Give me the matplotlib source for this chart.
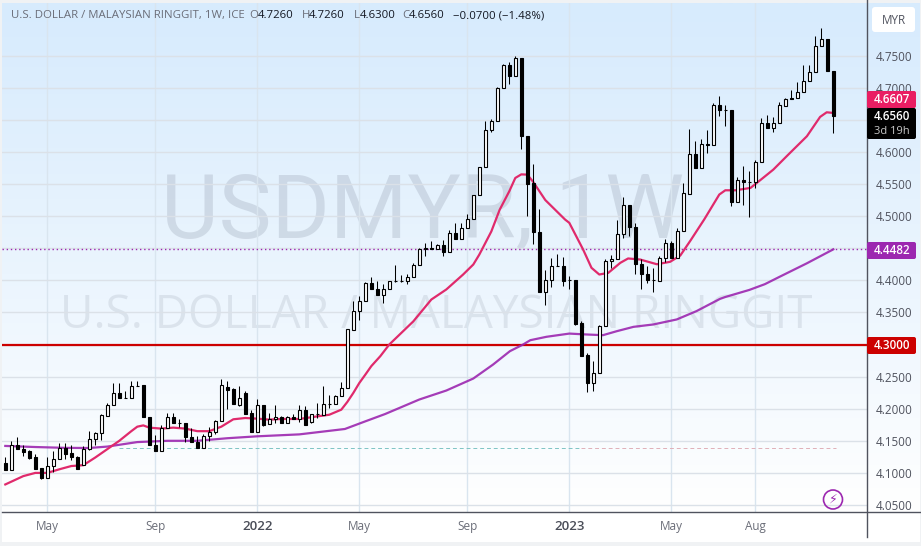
import numpy as np
import matplotlib
matplotlib.use('Agg')
import matplotlib.pyplot as plt
from matplotlib.patches import FancyBboxPatch, Circle

# Weekly candles
opens = [4.116, 4.1045, 4.144, 4.138, 4.1335, 4.124, 4.107, 4.0925, 4.110, 4.122,
         4.139, 4.1315, 4.125, 4.113, 4.137, 4.153, 4.1625, 4.189, 4.206, 4.225,
         4.2165, 4.2165, 4.235, 4.2365, 4.1875, 4.144, 4.134, 4.1705, 4.1875, 4.177,
         4.177, 4.1565, 4.1485, 4.139, 4.1575, 4.164, 4.181, 4.2345, 4.230, 4.206,
         4.225, 4.193, 4.1637, 4.206, 4.176, 4.1845, 4.1875, 4.177, 4.1875, 4.1845,
         4.1985, 4.179, 4.191, 4.190, 4.207, 4.207, 4.220, 4.232, 4.322, 4.3525,
         4.368, 4.396, 4.3867, 4.377, 4.3867, 4.3987, 4.399, 4.3987, 4.4055, 4.424,
         4.448, 4.4505, 4.448, 4.4545, 4.4435, 4.474, 4.464, 4.482, 4.496, 4.533,
         4.5766, 4.634, 4.6487, 4.6996, 4.7355, 4.719, 4.7464, 4.6254, 4.5508, 4.476,
         4.3815, 4.4007, 4.4225, 4.4225, 4.4, 4.4007, 4.3337, 4.283, 4.2408, 4.2559,
         4.329, 4.4303, 4.4334, 4.4724, 4.5176, 4.4838, 4.4256, 4.41, 4.4, 4.399,
         4.4345, 4.4585, 4.4345, 4.477, 4.535, 4.5968, 4.5745, 4.612, 4.6103, 4.6732,
         4.665, 4.6659, 4.5215, 4.5563, 4.5532, 4.5532, 4.5839, 4.6451, 4.6368, 4.6451,
         4.6721, 4.684, 4.6836, 4.6929, 4.7105, 4.7246, 4.7656, 4.776, 4.726]
highs = [4.125, 4.150, 4.156, 4.143, 4.136, 4.130, 4.107, 4.124, 4.134, 4.147,
         4.146, 4.143, 4.127, 4.142, 4.166, 4.164, 4.191, 4.209, 4.2405, 4.2395,
         4.2275, 4.243, 4.243, 4.2365, 4.1875, 4.1585, 4.174, 4.193, 4.194, 4.1845,
         4.177, 4.170, 4.1575, 4.160, 4.171, 4.182, 4.247, 4.243, 4.233, 4.235,
         4.2275, 4.198, 4.2155, 4.206, 4.194, 4.205, 4.188, 4.189, 4.192, 4.206,
         4.2035, 4.191, 4.209, 4.236, 4.222, 4.221, 4.241, 4.324, 4.367, 4.375,
         4.397, 4.405, 4.3987, 4.3935, 4.3987, 4.4246, 4.4075, 4.4105, 4.427, 4.4505,
         4.458, 4.461, 4.456, 4.4625, 4.478, 4.4895, 4.489, 4.504, 4.5336, 4.5766,
         4.6487, 4.651, 4.7005, 4.7375, 4.7396, 4.749, 4.7464, 4.6254, 4.5818, 4.5103,
         4.4153, 4.434, 4.4417, 4.4366, 4.406, 4.4007, 4.3363, 4.286, 4.2741, 4.331,
         4.4324, 4.44, 4.4947, 4.529, 4.5176, 4.4885, 4.4324, 4.423, 4.4194, 4.4386,
         4.4636, 4.4615, 4.4817, 4.5523, 4.6358, 4.6166, 4.6202, 4.6347, 4.6763, 4.6877,
         4.6737, 4.6659, 4.561, 4.5787, 4.5698, 4.588, 4.6529, 4.6581, 4.6545, 4.6778,
         4.684, 4.697, 4.7095, 4.736, 4.736, 4.78, 4.793, 4.776, 4.726]
lows = [4.1045, 4.104, 4.137, 4.126, 4.122, 4.106, 4.091, 4.0925, 4.101, 4.122,
        4.122, 4.120, 4.106, 4.113, 4.136, 4.143, 4.151, 4.188, 4.206, 4.2165,
        4.2165, 4.2165, 4.235, 4.187, 4.1435, 4.134, 4.134, 4.1705, 4.177, 4.172,
        4.148, 4.148, 4.139, 4.139, 4.150, 4.160, 4.181, 4.200, 4.208, 4.204,
        4.192, 4.1637, 4.1637, 4.173, 4.176, 4.178, 4.177, 4.177, 4.184, 4.180,
        4.175, 4.178, 4.186, 4.190, 4.201, 4.207, 4.220, 4.232, 4.322, 4.338,
        4.368, 4.3867, 4.377, 4.364, 4.3867, 4.397, 4.397, 4.3935, 4.4055, 4.424,
        4.4375, 4.4485, 4.448, 4.438, 4.4435, 4.464, 4.464, 4.482, 4.496, 4.533,
        4.5766, 4.631, 4.6487, 4.6996, 4.7053, 4.719, 4.605, 4.5008, 4.4558, 4.3815,
        4.3623, 4.3898, 4.4225, 4.3914, 4.387, 4.33, 4.282, 4.2263, 4.2278, 4.2559,
        4.329, 4.4194, 4.4334, 4.4662, 4.4687, 4.41, 4.3857, 4.3955, 4.3816, 4.399,
        4.4282, 4.4345, 4.4345, 4.477, 4.534, 4.5745, 4.5745, 4.5984, 4.6103, 4.6565,
        4.64, 4.5153, 4.5215, 4.5179, 4.4987, 4.5439, 4.5839, 4.6368, 4.6306, 4.6451,
        4.6721, 4.6825, 4.6836, 4.6929, 4.7105, 4.7246, 4.7656, 4.7256, 4.63]
closes = [4.1045, 4.144, 4.137, 4.1325, 4.123, 4.106, 4.0925, 4.110, 4.122, 4.139,
          4.130, 4.124, 4.106, 4.137, 4.153, 4.1625, 4.190, 4.206, 4.225, 4.2165,
          4.2165, 4.235, 4.2355, 4.187, 4.1435, 4.134, 4.1705, 4.1875, 4.177, 4.177,
          4.1555, 4.148, 4.139, 4.1575, 4.164, 4.181, 4.2375, 4.229, 4.208, 4.217,
          4.192, 4.1637, 4.206, 4.175, 4.1845, 4.1875, 4.177, 4.1875, 4.1845, 4.1975,
          4.175, 4.191, 4.1925, 4.207, 4.208, 4.220, 4.232, 4.3234, 4.3525, 4.368,
          4.396, 4.3867, 4.377, 4.3867, 4.3987, 4.399, 4.399, 4.4055, 4.424, 4.448,
          4.4505, 4.449, 4.4545, 4.4435, 4.474, 4.464, 4.482, 4.496, 4.533, 4.5766,
          4.634, 4.6487, 4.6996, 4.7355, 4.719, 4.7464, 4.6244, 4.5496, 4.475, 4.3815,
          4.4007, 4.4225, 4.4225, 4.3987, 4.4, 4.3327, 4.282, 4.2408, 4.2559, 4.329,
          4.4303, 4.4334, 4.4724, 4.5176, 4.4838, 4.425, 4.41, 4.3997, 4.4, 4.4345,
          4.4585, 4.4345, 4.477, 4.5363, 4.5968, 4.5745, 4.6124, 4.611, 4.6732, 4.6648,
          4.666, 4.5215, 4.5558, 4.5527, 4.5527, 4.5839, 4.6451, 4.6368, 4.6451, 4.6732,
          4.6825, 4.6825, 4.6929, 4.7105, 4.7246, 4.7656, 4.776, 4.7256, 4.656]

# Moving averages, week number / value
pink_x = [0, 3, 5, 7, 9, 11, 13, 15, 17, 19, 21, 22, 23, 24, 26, 28, 30, 32, 34, 36,
          38, 40, 42, 44, 46, 49, 52, 54, 56, 57, 58, 59, 60, 61, 62.5, 64, 68, 71, 73.5,
          76.3, 78, 79, 81, 82.4, 84, 85, 86, 87, 88, 90, 93.3, 94, 96.3, 97.7, 99, 100.5,
          102.5, 103.8, 105.8, 108.6, 110.8, 112.5, 114.2, 116.5, 119, 120, 121.7, 124.2,
          125.8, 128, 130.5, 133.6, 135.8, 136.9, 138]
pink_y = [4.082, 4.095, 4.100, 4.100, 4.1056, 4.1107, 4.112, 4.124, 4.137, 4.150, 4.165,
          4.172, 4.174, 4.1705, 4.169, 4.1705, 4.169, 4.165, 4.165, 4.172, 4.1835, 4.1855,
          4.1845, 4.183, 4.184, 4.184, 4.188, 4.1906, 4.1985, 4.2105, 4.2245, 4.24, 4.253,
          4.2663, 4.2818, 4.30, 4.336, 4.370, 4.3857, 4.409, 4.4246, 4.44, 4.476, 4.51,
          4.5387, 4.5594, 4.565, 4.5646, 4.553, 4.525, 4.4946, 4.4895, 4.448, 4.4194, 4.409,
          4.4116, 4.4272, 4.434, 4.4324, 4.425, 4.4288, 4.4386, 4.462, 4.495, 4.5336, 4.5402,
          4.5402, 4.5439, 4.5558, 4.5724, 4.5958, 4.6244, 4.6545, 4.6617, 4.6607]
purple_x = [0, 5, 10, 14, 17, 22, 27, 32, 37, 42, 49, 56.6, 60, 63.3, 69, 73.5, 78, 81.3,
            84.1, 86.3, 87.5, 90.2, 94, 96.9, 99.6, 101.9, 104.7, 108, 111.9, 115.2, 119.1,
            120, 124, 126.6, 129.1, 133.6, 138]
purple_y = [4.142, 4.1403, 4.139, 4.1388, 4.141, 4.148, 4.150, 4.150, 4.154, 4.157, 4.160,
            4.1684, 4.1803, 4.1917, 4.2143, 4.2283, 4.247, 4.2688, 4.2896, 4.30, 4.3067,
            4.312, 4.317, 4.3156, 4.3145, 4.3207, 4.3275, 4.3312, 4.339, 4.352, 4.371,
            4.374, 4.385, 4.394, 4.4057, 4.4265, 4.4482]

price_ticks = [4.05, 4.10, 4.15, 4.20, 4.25, 4.30, 4.35, 4.40, 4.45, 4.50, 4.55, 4.60, 4.65, 4.70, 4.75]
hidden_ticks = [4.30, 4.45, 4.65]  # covered by the price boxes
date_ticks = [7, 25, 42, 59, 77, 94, 111, 125]
date_labels = ['May', 'Sep', '2022', 'May', 'Sep', '2023', 'May', 'Aug']

support = 4.30
ma_last = 4.4482
basis = 4.1388

W, H = 921, 546
FONT = 'Open Sans'
WM_FONT = 'Roboto'
GRAY = '#6a6d78'

fig = plt.figure(figsize=(W / 100, H / 100), dpi=100, facecolor='#f0f2f4')

# background with blue gradient
bg = fig.add_axes([2 / W, 1 - 541 / H, 917 / W, 538 / H], zorder=0)
grad = np.linspace(0, 1, 256).reshape(-1, 1)
top = np.array([215, 235, 253]) / 255
img = top + (1 - top) * grad[..., None] ** 1.1
bg.imshow(img, extent=[0, 1, 512, 3], aspect='auto', zorder=1)
bg.fill_between([0, 1], 512, 541, color='white', zorder=1)
bg.set_xlim(0, 1)
bg.set_ylim(541, 3)
bg.axis('off')

# main chart, x is the week number
ax = fig.add_axes([2 / W, 1 - 512 / H, 865 / W, 509 / H], zorder=1)
ax.patch.set_alpha(0)
ax.set_xlim((2 - 5.3) / 6, (867 - 5.3) / 6)
ax.set_ylim(4.05 - 7 / 642, 4.05 + 502 / 642)
for s in ax.spines.values():
    s.set_visible(False)
ax.set_axisbelow(True)
ax.grid(True, axis='y', color='#dbe1e8', lw=1)
ax.grid(True, axis='x', color='#d9e5ef', lw=1)
ax.yaxis.tick_right()
ax.set_yticks(price_ticks)
ax.set_yticklabels(['' if p in hidden_ticks else '%.4f' % p for p in price_ticks],
                   fontsize=8.4, color='#50535e', family=FONT)
ax.set_xticks(date_ticks)
ax.set_xticklabels(date_labels, fontsize=8.5, color=GRAY, family=FONT)
for lab, txt in zip(ax.get_xticklabels(), date_labels):
    if txt.isdigit():
        lab.set_color('#4a4d58')
        lab.set_fontsize(9.5)
        lab.set_fontweight('semibold')
ax.tick_params(axis='both', length=0)
ax.tick_params(axis='y', pad=6)
ax.tick_params(axis='x', pad=6)

# watermarks
fig.text(423 / W, 1 - 213 / H, 'USDMYR, 1W', ha='center', va='center', fontsize=64,
         color='#8e97a8', alpha=0.27, family=WM_FONT, zorder=0.5)
ax.text(434 / 865, 1 - 313 / 509, 'U.S. DOLLAR / MALAYSIAN RINGGIT', transform=ax.transAxes,
        ha='center', va='center', fontsize=33, color='#8e97a8', alpha=0.2, family=FONT, zorder=0.5)

# horizontal levels
ax.axhline(support, color='#cc0000', lw=1.6, zorder=2)
ax.axhline(ma_last, color='#9c27b0', lw=1, ls=(0, (1, 2)), zorder=2)
ax.plot([19, 96], [basis, basis], color='#7fc4c4', lw=0.7, ls=(0, (4, 3)), zorder=2)
ax.plot([96, 138.5], [basis, basis], color='#e0b0b8', lw=0.7, ls=(0, (4, 3)), zorder=2)

# moving averages
ax.plot(purple_x, purple_y, color='#9c27b0', lw=1.6, alpha=0.9, zorder=3, solid_joinstyle='round')
ax.plot(pink_x, pink_y, color='#e02a6c', lw=1.6, zorder=3, solid_joinstyle='round')

# candles
x = np.arange(len(opens))
o = np.array(opens)
c = np.array(closes)
ax.vlines(x, lows, highs, color='black', lw=0.75, zorder=4)
up = c >= o
ax.bar(x[up], (c - o)[up], bottom=o[up], width=0.55, color='white', edgecolor='black', lw=0.8, zorder=5)
ax.bar(x[~up], (c - o)[~up], bottom=o[~up], width=0.55, color='black', edgecolor='black', lw=0.8, zorder=5)

# overlay in pixels for axis frame, labels and header
ov = fig.add_axes([0, 0, 1, 1], zorder=3)
ov.set_xlim(0, W)
ov.set_ylim(H, 0)
ov.axis('off')
ov.patch.set_alpha(0)
ov.plot([2, 921], [512, 512], color='#50535e', lw=1)
ov.plot([867, 867], [0, 537], color='#50535e', lw=1)


def price_box(y0, h, color, label):
    ov.add_patch(FancyBboxPatch((867, y0), 49, h, boxstyle='round,pad=0,rounding_size=2',
                                fc=color, ec='none', zorder=5))
    ov.text(892, y0 + 8.3, label, color='white', fontsize=8.4, fontweight='semibold',
            ha='center', va='center', family=FONT, zorder=6)


price_box(91, 17, '#e91e63', '%.4f' % pink_y[-1])
price_box(108, 31, '#000000', '%.4f' % closes[-1])
ov.text(892, 131, '3d 19h', color='#c8c8c8', fontsize=8, ha='center', va='center', family=FONT, zorder=6)
price_box(242, 17, '#9c27b0', '%.4f' % ma_last)
price_box(337, 17, '#cc0000', '%.4f' % support)

ov.add_patch(FancyBboxPatch((872, 7), 43, 25, boxstyle='round,pad=0,rounding_size=3', fc='white', ec='none'))
ov.text(893.5, 20, 'MYR', color='#50535e', fontsize=8.5, ha='center', va='center', family=FONT)

ov.add_patch(Circle((833, 499.5), 9.5, fc='none', ec='#9c27b0', lw=1.2))
ov.text(833, 499.5, '\u26a1', color='#9c27b0', fontsize=9, ha='center', va='center', family='DejaVu Sans')

# header line, name then OHLC
header = [(10.5, 'U.S. DOLLAR / MALAYSIAN RINGGIT, 1W, ICE', GRAY),
          (249.5, 'O', GRAY), (258, '%.4f' % opens[-1], '#131722'),
          (302, 'H', GRAY), (309, '%.4f' % highs[-1], '#131722'),
          (354, 'L', GRAY), (360, '%.4f' % lows[-1], '#131722'),
          (402.5, 'C', GRAY), (409, '%.4f' % closes[-1], '#131722'),
          (453, '\u22120.0700 (\u22121.48%)', '#131722')]
for hx, txt, col in header:
    ov.text(hx, 15.5, txt, color=col, fontsize=8.2, ha='left', va='center', family=FONT)

fig.savefig('out.png', dpi=100, facecolor=fig.get_facecolor())
